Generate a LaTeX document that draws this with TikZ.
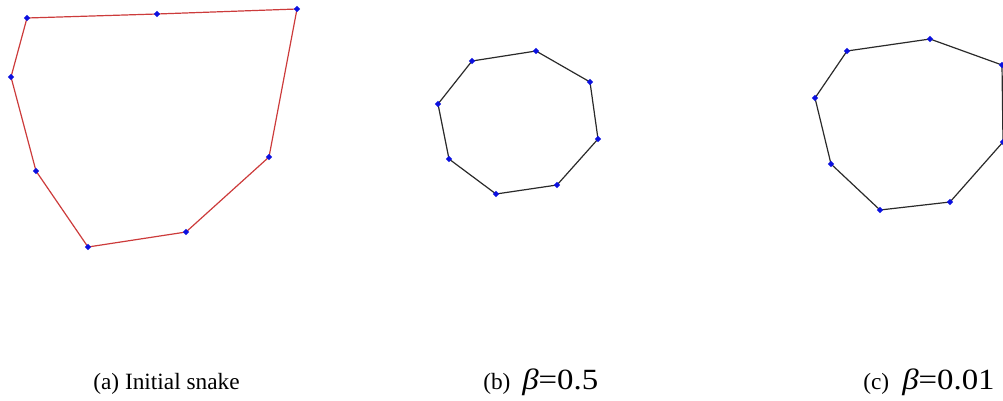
\documentclass[tikz,border=0pt]{standalone}
\usepackage{fontspec}
\setmainfont{Liberation Serif}
\usepackage{graphicx}
\usetikzlibrary{shapes.geometric,backgrounds}
\definecolor{snakered}{HTML}{CC3B3B}
\definecolor{ptblue}{HTML}{0B10E0}
\definecolor{curve}{HTML}{2A2A2A}

\begin{document}
\begin{tikzpicture}[x=0.75pt,y=-0.75pt,
  pt/.style={diamond,fill=ptblue,inner sep=0pt,minimum size=5pt},
  snk/.style={draw=snakered,line width=0.9pt,line join=round},
  res/.style={draw=curve,line width=0.9pt,line join=round},
  captxt/.style={anchor=base west,inner sep=0pt,font=\fontsize{17.5}{20}\selectfont},
  beta/.style={font=\fontsize{22}{24}\selectfont}]
\useasboundingbox (0,0) rectangle (1003,400);
\clip (0,0) rectangle (1003,400);
% (a) initial snake
\node[pt](a1) at (27,18){}; \node[pt](a2) at (157,14){}; \node[pt](a3) at (297,9){};
\node[pt](a4) at (269,157){}; \node[pt](a5) at (186,232){}; \node[pt](a6) at (88,247){};
\node[pt](a7) at (36,171){}; \node[pt](a8) at (11,77){};
% (b) beta = 0.5
\node[pt](b1) at (472,61){}; \node[pt](b2) at (536,51){}; \node[pt](b3) at (590,82){};
\node[pt](b4) at (598,139){}; \node[pt](b5) at (557,185){}; \node[pt](b6) at (496,194){};
\node[pt](b7) at (449,159){}; \node[pt](b8) at (438,104){};
% (c) beta = 0.01
\node[pt](c1) at (847,51){}; \node[pt](c2) at (930,39){}; \node[pt](c3) at (1002,65){};
\node[pt](c4) at (1003,142){}; \node[pt](c5) at (950,202){}; \node[pt](c6) at (880,210){};
\node[pt](c7) at (831,164){}; \node[pt](c8) at (815,98){};
\begin{scope}[on background layer]
\draw[snk](a1.center)--(a2.center)--(a3.center)--(a4.center)--(a5.center)--(a6.center)--(a7.center)--(a8.center)--cycle;
\draw[res](b1.center)--(b2.center)--(b3.center)--(b4.center)--(b5.center)--(b6.center)--(b7.center)--(b8.center)--cycle;
\draw[res](c1.center)--(c2.center)--(c3.center)--(c4.center)--(c5.center)--(c6.center)--(c7.center)--(c8.center)--cycle;
\end{scope}
% captions
\node[captxt](capa) at (93,389){(a) Initial snake};
\node[captxt](capb) at (483,389){(b)};
\node[captxt,beta](valb) at (522,389){\scalebox{1.12}[1]{\itshape β\upshape=0.5}};
\node[captxt](capc) at (863,389){(c)};
\node[captxt,beta](valc) at (902,389){\scalebox{1.12}[1]{\itshape β\upshape=0.01}};
\end{tikzpicture}
\end{document}
